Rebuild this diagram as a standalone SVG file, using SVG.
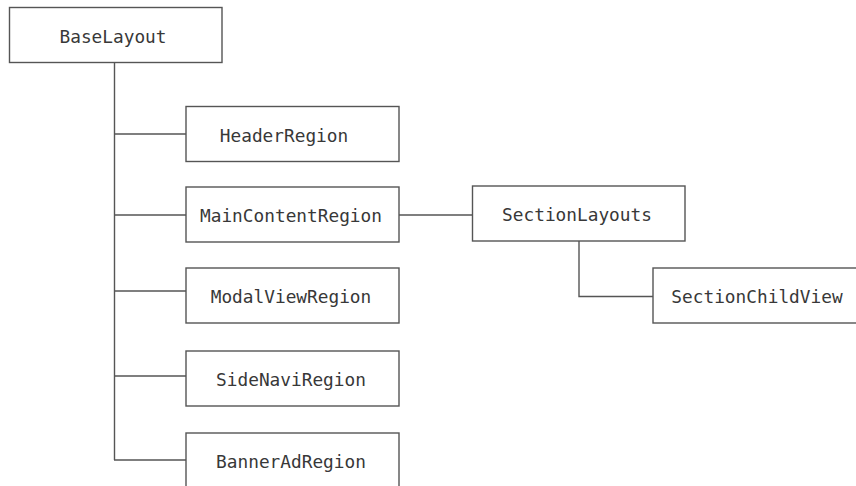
<svg xmlns="http://www.w3.org/2000/svg" width="856" height="486" viewBox="0 0 856 486">
<style>
rect.n{fill:#fff;stroke:#555;stroke-width:1.4}
text{font-family:"DejaVu Sans Mono",monospace;font-size:17.8px;fill:#383838;text-anchor:middle;dominant-baseline:central}
.c line,.c polyline{stroke:#555;stroke-width:1.4;fill:none}
</style>
<rect width="856" height="486" fill="#fff"/>
<g class="c" id="connectors">
<line x1="114.5" y1="63" x2="114.5" y2="460"/>
<line x1="114.5" y1="134" x2="186" y2="134"/>
<line x1="114.5" y1="215" x2="186" y2="215"/>
<line x1="114.5" y1="291" x2="186" y2="291"/>
<line x1="114.5" y1="376" x2="186" y2="376"/>
<line x1="114" y1="460" x2="186" y2="460"/>
<line x1="399" y1="215" x2="472" y2="215"/>
<polyline points="579,241 579,296.5 653,296.5"/>
</g>
<g id="BaseLayout"><rect class="n" x="9.5" y="7.5" width="212.5" height="55"/><text x="113" y="36">BaseLayout</text></g>
<g id="HeaderRegion"><rect class="n" x="186" y="106.5" width="213" height="55"/><text x="284" y="135">HeaderRegion</text></g>
<g id="MainContentRegion"><rect class="n" x="186" y="187" width="213" height="55"/><text x="291" y="215">MainContentRegion</text></g>
<g id="ModalViewRegion"><rect class="n" x="186" y="268" width="213" height="55"/><text x="291" y="296">ModalViewRegion</text></g>
<g id="SideNaviRegion"><rect class="n" x="186" y="351" width="213" height="55"/><text x="291" y="379">SideNaviRegion</text></g>
<g id="BannerAdRegion"><rect class="n" x="186" y="433" width="213" height="55"/><text x="291" y="461">BannerAdRegion</text></g>
<g id="SectionLayouts"><rect class="n" x="472.5" y="186" width="212.5" height="55"/><text x="577" y="214">SectionLayouts</text></g>
<g id="SectionChildView"><rect class="n" x="653" y="268" width="213" height="55"/><text x="757" y="296">SectionChildView</text></g>
</svg>
